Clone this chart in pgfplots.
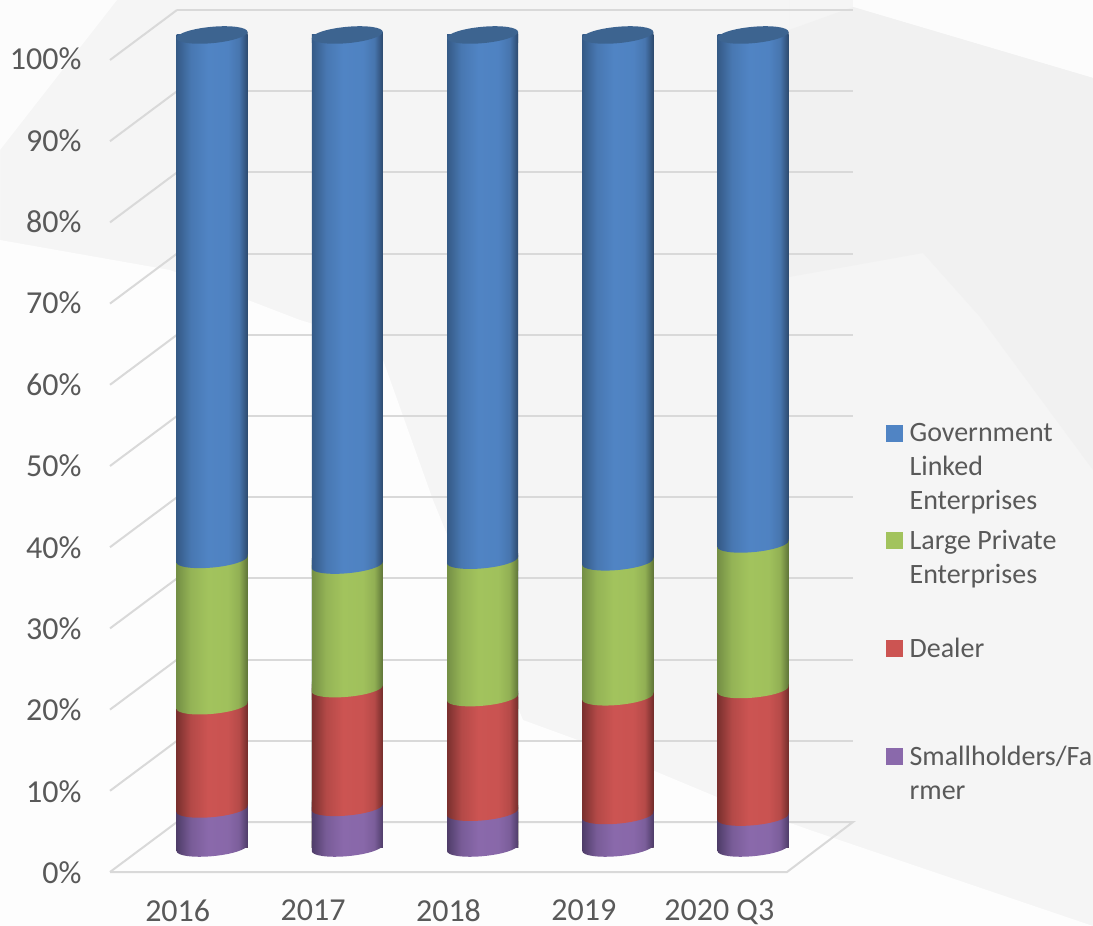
\documentclass[border=0pt]{standalone}
\usepackage{pgfplots}
\pgfplotsset{compat=1.18}
\usepackage{pgfplotstable}
\usepackage{fontspec}
\setmainfont{Carlito}
\usetikzlibrary{shadings}

\definecolor{gridc}{HTML}{D9D9D9}
\definecolor{textc}{HTML}{595959}
\definecolor{bgc}{HTML}{F5F5F5}
\definecolor{cylbluetop}{HTML}{3D6490}

% front edge of a tilted ellipse (5 degrees), closed over the top of the joint
\newcommand{\bandpath}{%
  \pgfpathmoveto{\pgfpoint{-35.5pt}{-3.1pt}}%
  \pgfpathcurveto{\pgfpoint{-35.4pt}{-7.63pt}}{\pgfpoint{-19.55pt}{-9.91pt}}{\pgfpoint{0pt}{-8.2pt}}%
  \pgfpathcurveto{\pgfpoint{19.55pt}{-6.49pt}}{\pgfpoint{35.4pt}{-1.43pt}}{\pgfpoint{35.5pt}{3.1pt}}%
  \pgfpathlineto{\pgfpoint{35.5pt}{7pt}}%
  \pgfpathlineto{\pgfpoint{-35.5pt}{7pt}}%
  \pgfpathclose}
\newcommand{\shadeband}[1]{\bandpath\pgfshadepath{#1}{0}\pgfusepath{discard}}
\newcommand{\shadepatch}[1]{\pgfpathrectangle{\pgfpoint{-35.5pt}{-10.5pt}}{\pgfpoint{71pt}{15pt}}\pgfshadepath{#1}{0}\pgfusepath{discard}}
% cylinder shadings: dark rim, light band around the middle
\newcommand{\cylshade}[4]{%
  \definecolor{#1a}{HTML}{#2}\definecolor{#1b}{HTML}{#3}\definecolor{#1c}{HTML}{#4}%
  \pgfdeclarehorizontalshading{#1}{100bp}{color(0bp)=(#1a); color(25bp)=(#1a); color(35bp)=(#1b!70!#1a); color(47bp)=(#1b); color(61bp)=(#1b!97!#1c); color(69bp)=(#1b!75!#1c); color(75bp)=(#1c); color(100bp)=(#1c)}%
}
\cylshade{cylblue}{355A86}{5084C4}{2D4A6E}
\cylshade{cylgreen}{748F45}{A2C35D}{5F7538}
\cylshade{cylred}{7A302E}{CC5452}{732D2B}
\cylshade{cylpurple}{4F3D69}{8A69AB}{4F3D69}
% joints between two segments, the foot and the lid
\pgfdeclareplotmark{footjoint}{\shadeband{cylpurple}}
\pgfdeclareplotmark{prjoint}{\shadepatch{cylpurple}\shadeband{cylred}}
\pgfdeclareplotmark{rgjoint}{\shadepatch{cylred}\shadeband{cylgreen}}
\pgfdeclareplotmark{gbjoint}{\shadepatch{cylgreen}\shadeband{cylblue}}
\pgfdeclareplotmark{lidjoint}{%
  \pgfpathmoveto{\pgfpoint{-35.5pt}{-3.1pt}}\pgfpathlineto{\pgfpoint{35.5pt}{3.1pt}}%
  \pgfpathlineto{\pgfpoint{35.5pt}{-8pt}}\pgfpathlineto{\pgfpoint{-35.5pt}{-8pt}}\pgfpathclose
  \pgfshadepath{cylblue}{0}\pgfusepath{discard}%
  \pgfpathellipse{\pgfpointorigin}{\pgfpoint{35.5pt}{3.1pt}}{\pgfpoint{0pt}{8.2pt}}%
  \pgfsetfillcolor{cylbluetop}\pgfusepath{fill}}

% running totals per year, bottom to top of each stack (percent)
\pgfplotstableread{
x cp cr cg ct
0 4.8 17.5 35.5 100
1 5.0 19.6 34.8 100
2 4.4 18.5 35.4 100
3 4.0 18.6 35.2 100
4 3.8 19.5 37.4 100
}\shares

\begin{document}
\begin{tikzpicture}[x=1pt,y=1pt]
  \path[use as bounding box] (0,0) rectangle (1093,926);
  % page background and walls, in pixel coordinates
  \begin{axis}[
      at={(0,0)},anchor=south west,
      scale only axis,width=1093pt,height=926pt,
      xmin=0,xmax=1093,ymin=0,ymax=926,y dir=reverse,
      axis lines=none,clip=true
  ]
    \addplot[fill=bgc,draw=none] coordinates {(0,0) (1093,0) (1093,926) (0,926)} \closedcycle;
    \addplot[fill=white!70!bgc,draw=none] coordinates {(0,0) (117,0) (0,150)} \closedcycle;
    \addplot[fill=white!70!bgc,draw=none] coordinates {(853,0) (1093,0) (1093,78) (853,7)} \closedcycle;
    \addplot[fill=black!5.5,draw=none] coordinates {(789,30) (853,7) (1093,78) (1093,470) (980,317) (923,253) (789,277)} \closedcycle;
    \addplot[fill=white!80!bgc,draw=none] coordinates {(0,240) (170,270) (300,320) (377,343) (433,500) (523,720) (597,747) (717,797) (810,830) (1093,926) (0,926)} \closedcycle;
    % back wall
    \foreach \yy in {10,91.2,172.4,253.6,334.8,416,497.2,578.4,659.6,740.8} {
      \addplot[gridc,line width=2pt] coordinates {(177,\yy) (853,\yy)};
      \addplot[gridc,line width=2pt] coordinates {(110,\yy+50) (177,\yy)};
    }
    % floor
    \addplot[gridc,line width=2pt] coordinates {(110,872) (177,822) (853,822) (787,872) (110,872)};
  \end{axis}
  % front plane: tick labels only
  \begin{axis}[
      at={(110pt,54pt)},anchor=south west,
      scale only axis,width=677pt,height=814pt,
      xmin=-0.5,xmax=4.5,ymin=0,ymax=100,
      axis line style={draw=none},
      major tick length=0pt,
      xtick={0,1,2,3,4},
      xticklabels={2016,2017,2018,2019,2020 Q3},
      ytick={0,10,...,100},
      yticklabel={\pgfmathprintnumber{\tick}\%},
      /pgf/number format/assume math mode=true,
      tick label style={font=\fontsize{32}{32}\selectfont,text=textc},
      yticklabel style={xshift=-25pt,yshift=-1pt},
      xticklabel style={yshift=-24pt}
  ]
    \addplot[draw=none] coordinates {(0,0)};
  \end{axis}
  % cylinders, in the middle plane of the floor
  \begin{axis}[
      at={(0,0)},anchor=south west,
      scale only axis,width=1093pt,height=926pt,
      xmin=-1.5675,xmax=6.5139,ymin=-9.594,ymax=104.305,
      axis lines=none,clip=false,
      ybar,bar shift=0pt,bar width=71pt,
      legend style={at={(886pt,503pt)},anchor=north west,draw=none,fill=none,
        font=\fontsize{28}{34}\selectfont,text=textc,
        row sep=87pt,column sep=7pt,inner sep=0pt,nodes={inner sep=0pt,outer sep=0pt}},
      legend cell align=left
  ]
    \addlegendimage{legend image code/.code={\fill[cylblueb] (0pt,-8pt) rectangle (16pt,8pt);}}
    \addlegendentry{\parbox[t]{180pt}{Government\\Linked\\Enterprises}}
    \addlegendimage{legend image code/.code={\fill[cylgreenb] (0pt,-8pt) rectangle (16pt,8pt);}}
    \addlegendentry{\parbox[t]{180pt}{Large Private\\Enterprises}}
    \addlegendimage{legend image code/.code={\fill[cylredb] (0pt,-8pt) rectangle (16pt,8pt);}}
    \addlegendentry{\parbox[t]{180pt}{Dealer}}
    \addlegendimage{legend image code/.code={\fill[cylpurpleb] (0pt,-8pt) rectangle (16pt,8pt);}}
    \addlegendentry{\parbox[t]{180pt}{Smallholders/Fa\\rmer}}

    % one bar per plot so that each gets its own shading; tallest first
    \pgfplotsinvokeforeach{0,1,2,3,4}{
      \addplot[forget plot,draw=none,shade,shading=cylblue,restrict x to domain=#1:#1] table[x=x,y=ct] {\shares};
      \addplot[forget plot,draw=none,shade,shading=cylgreen,restrict x to domain=#1:#1] table[x=x,y=cg] {\shares};
      \addplot[forget plot,draw=none,shade,shading=cylred,restrict x to domain=#1:#1] table[x=x,y=cr] {\shares};
      \addplot[forget plot,draw=none,shade,shading=cylpurple,restrict x to domain=#1:#1] table[x=x,y=cp] {\shares};
    }
    % curved joints
    \addplot[forget plot,sharp plot,draw=none,mark=footjoint] coordinates {(0,0) (1,0) (2,0) (3,0) (4,0)};
    \addplot[forget plot,sharp plot,draw=none,mark=prjoint] table[x=x,y=cp] {\shares};
    \addplot[forget plot,sharp plot,draw=none,mark=rgjoint] table[x=x,y=cr] {\shares};
    \addplot[forget plot,sharp plot,draw=none,mark=gbjoint] table[x=x,y=cg] {\shares};
    \addplot[forget plot,sharp plot,draw=none,mark=lidjoint] table[x=x,y=ct] {\shares};
  \end{axis}
\end{tikzpicture}
\end{document}
